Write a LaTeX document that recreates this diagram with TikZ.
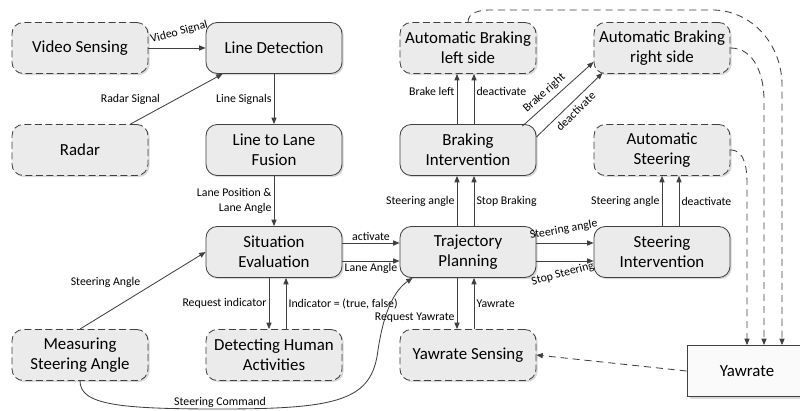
\documentclass[tikz,border=0pt]{standalone}
\usepackage{fontspec}
\setmainfont{Carlito}
\usetikzlibrary{arrows.meta, calc, shadows}

\begin{document}
\begin{tikzpicture}[x=0.025cm, y=-0.025cm,
    >={Triangle[length=4.5pt, width=3.6pt]},
    block/.style={draw=black!75, fill=gray!16, line width=0.6pt, rounded corners=8pt,
        minimum width=3.4cm, minimum height=1.275cm, inner xsep=1pt, align=center,
        font=\fontsize{12}{14.5}\selectfont,
        drop shadow={shadow xshift=1.2pt, shadow yshift=-1.2pt, opacity=0.3}},
    extblock/.style={block, dash pattern=on 5pt off 2.5pt},
    flow/.style={->, draw=black!75, line width=0.6pt},
    feed/.style={flow, dash pattern=on 5pt off 3.5pt},
    lbl/.style={font=\fontsize{8.4}{10.5}\selectfont, inner sep=1.5pt}]
    \useasboundingbox (0,0) rectangle (800,411);

    % Blocks
    \node[extblock] (vs) at (80,48) {Video Sensing};
    \node[block] (ld) at (274,48) {Line Detection};
    \node[extblock] (rad) at (80,150) {Radar};
    \node[block] (llf) at (274,150) {Line to Lane\\Fusion};
    \node[block] (se) at (274,252) {Situation\\Evaluation};
    \node[extblock] (msa) at (80,355) {Measuring\\Steering Angle};
    \node[extblock] (dha) at (274,355) {Detecting Human\\Activities};
    \node[block] (tp) at (468,252) {Trajectory\\Planning};
    \node[block] (bi) at (468,150) {Braking\\Intervention};
    \node[extblock] (abl) at (468,48) {Automatic Braking\\left side};
    \node[extblock] (abr) at (662,48) {Automatic Braking\\right side};
    \node[extblock] (ast) at (662,150) {Automatic\\Steering};
    \node[block] (si) at (662,252) {Steering\\Intervention};
    \node[extblock] (ys) at (468,355) {Yawrate Sensing};
    \node[draw=black!75, fill=gray!4, line width=0.6pt, minimum width=3cm, minimum height=1.275cm,
        font=\fontsize{12}{14.5}\selectfont,
        drop shadow={shadow xshift=2pt, shadow yshift=-2pt, opacity=0.3}] (yaw) at (747,371) {Yawrate};

    % Sensing and lane fusion
    \draw[flow] (vs) -- (ld) node[lbl, midway, above=6pt, xshift=3pt, rotate=15] {Video Signal};
    \draw[flow] ($(rad.north east)+(-18,0)$) -- ($(ld.south west)+(17,0)$) node[lbl, midway, left=10pt] {Radar Signal};
    \draw[flow] (ld) -- (llf) node[lbl, midway, left] {Line Signals};
    \draw[flow] (llf) -- (se) node[lbl, midway, left, align=right] {Lane Position \&\\Lane Angle};

    % Situation evaluation
    \draw[flow] ($(se.east)+(0,-9)$) -- ($(tp.west)+(0,-9)$) node[lbl, midway, above] {activate};
    \draw[flow] ($(se.east)+(0,9)$) -- ($(tp.west)+(0,9)$) node[lbl, midway, below] {Lane Angle};
    \draw[flow] (msa.north) -- (se.west) node[lbl, midway, above left] {Steering Angle};
    \draw[flow] ($(se.south)+(-5,0)$) -- ($(dha.north)+(-5,0)$) node[lbl, midway, left] {Request indicator};
    \draw[flow] ($(dha.north)+(12,0)$) -- ($(se.south)+(12,0)$) node[lbl, midway, right] {Indicator = (true, false)};
    \draw[flow] (msa.south) .. controls (80,405) and (120,409) .. (220,409) node[lbl, above=-1pt] {Steering Command}
        .. controls (340,409) and (372,400) .. (378,350) .. controls (384,310) and (395,290) .. ($(tp.south west)+(13,0)$);

    % Trajectory planning
    \draw[flow] ($(tp.south)+(-11,0)$) -- ($(ys.north)+(-11,0)$) node[lbl, pos=0.78, left] {Request Yawrate};
    \draw[flow] ($(ys.north)+(6,0)$) -- ($(tp.south)+(6,0)$) node[lbl, midway, right] {Yawrate};
    \draw[flow] ($(tp.north)+(-11,0)$) -- ($(bi.south)+(-11,0)$) node[lbl, midway, left] {Steering angle};
    \draw[flow] ($(tp.north)+(6,0)$) -- ($(bi.south)+(6,0)$) node[lbl, midway, right] {Stop Braking};
    \draw[flow] ($(tp.east)+(0,-9)$) -- ($(si.west)+(0,-9)$) node[lbl, midway, above=4pt, rotate=10] {Steering angle};
    \draw[flow] ($(tp.east)+(0,9)$) -- ($(si.west)+(0,9)$) node[lbl, midway, below=4pt, xshift=-3pt, rotate=15] {Stop Steering};

    % Braking
    \draw[flow] ($(bi.north)+(-11,0)$) -- ($(abl.south)+(-11,0)$) node[lbl, pos=0.65, left] {Brake left};
    \draw[flow] ($(bi.north)+(6,0)$) -- ($(abl.south)+(6,0)$) node[lbl, pos=0.65, right] {deactivate};
    \draw[flow] ($(bi.north east)+(-14,2)$) -- ($(abr.west)+(0,14)$) node[lbl, pos=0.4, above=1.5pt, sloped] {Brake right};
    \draw[flow] ($(bi.east)+(0,-13)$) -- ($(abr.south west)+(9,-1)$) node[lbl, pos=0.5, below=1.5pt, sloped] {deactivate};

    % Steering
    \draw[flow] (si) -- (ast) node[lbl, midway, left] {Steering angle};
    \draw[flow] ($(si.north)+(17,0)$) -- ($(ast.south)+(17,0)$) node[lbl, midway, right] {deactivate};

    % Yawrate feedback (dashed)
    \draw[feed] (abl.north) to[out=90, in=180] (490,10) -- (712,10) to[out=0, in=90] (782,85) -- ($(yaw.north)+(35,0)$);
    \draw[feed] (abr.east) to[out=0, in=90] (764,100) -- ($(yaw.north)+(17,0)$);
    \draw[feed] (ast.east) to[out=0, in=90] (747,185) -- (yaw.north);
    \draw[feed] (yaw.west) -- (ys.east);
\end{tikzpicture}
\end{document}
